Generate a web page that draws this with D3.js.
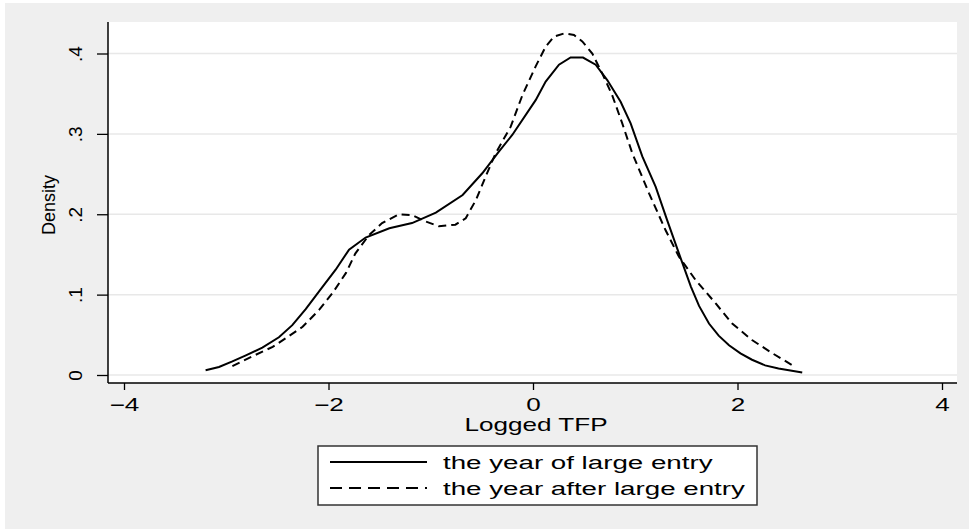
<!DOCTYPE html>
<html>
<head>
<meta charset="utf-8">
<script src="https://cdn.jsdelivr.net/npm/d3@7"></script>
<style>
  body { margin: 0; background: #fff; }
  text { font-family: 'Liberation Sans', Arial, Helvetica, sans-serif; fill: #000; }
</style>
</head>
<body>
<div id="chart"></div>
<script>
// kernel density of logged TFP
const tfpEntry = [-3.202, -3.071, -2.94, -2.808, -2.647, -2.485, -2.354, -2.223, -2.092, -1.93,
  -1.799, -1.637, -1.405, -1.183, -0.95, -0.688, -0.496, -0.334, -0.203, 0.026,
  0.124, 0.254, 0.368, 0.489, 0.613, 0.726, 0.857, 0.955, 1.069, 1.2,
  1.311, 1.428, 1.544, 1.624, 1.721, 1.816, 1.917, 2.029, 2.142, 2.27, 2.401, 2.633]
const densEntry = [0.006, 0.010, 0.017, 0.0245, 0.034, 0.047, 0.062, 0.082, 0.104, 0.131,
  0.156, 0.171, 0.1825, 0.189, 0.202, 0.224, 0.251, 0.278, 0.2986, 0.342,
  0.365, 0.386, 0.395, 0.395, 0.386, 0.367, 0.34, 0.313, 0.272, 0.234,
  0.193, 0.151, 0.11, 0.086, 0.064, 0.049, 0.037, 0.027, 0.019, 0.012, 0.008, 0.003]

const tfpAfter = [-2.94, -2.748, -2.546, -2.415, -2.253, -2.092, -1.96, -1.829, -1.738, -1.604,
  -1.476, -1.311, -1.183, -1.051, -0.92, -0.759, -0.658, -0.557, -0.463, -0.365,
  -0.218, -0.104, 0.026, 0.124, 0.206, 0.304, 0.401, 0.482, 0.58, 0.678,
  0.775, 0.873, 0.971, 1.135, 1.297, 1.428, 1.591, 1.787, 1.948, 2.142, 2.342, 2.565]
const densAfter = [0.011, 0.023, 0.035, 0.046, 0.060, 0.081, 0.102, 0.127, 0.151, 0.174,
  0.189, 0.200, 0.199, 0.191, 0.185, 0.187, 0.195, 0.218, 0.247, 0.276,
  0.309, 0.348, 0.384, 0.4085, 0.421, 0.425, 0.423, 0.415, 0.400, 0.375,
  0.348, 0.313, 0.276, 0.226, 0.180, 0.147, 0.118, 0.089, 0.064, 0.0435, 0.027, 0.010]

const xTicks = [-4, -2, 0, 2, 4]
const yTicks = [0, 0.1, 0.2, 0.3, 0.4]
const legendLabels = ['the year of large entry', 'the year after large entry']

let width = 969
let height = 529
// plot region
let plot = { left: 108, right: 957, top: 22, bottom: 383 }
const stretch = 1.45

let svg = d3
  .select('#chart')
  .append('svg')
  .attr('width', width)
  .attr('height', height)

svg.append('rect')
  .attr('x', 5).attr('y', 3)
  .attr('width', width - 5).attr('height', height - 3)
  .attr('fill', '#efefef')

svg.append('rect')
  .attr('x', plot.left).attr('y', plot.top)
  .attr('width', plot.right - plot.left).attr('height', plot.bottom - plot.top)
  .attr('fill', '#fff')

const x = d3.scaleLinear().domain([-4, 4]).range([124, 942])
const y = d3.scaleLinear().domain([0, 0.4]).range([375, 53.5])

// gridlines
svg.selectAll('.grid')
  .data(yTicks)
  .enter()
  .append('line')
  .attr('class', 'grid')
  .attr('x1', plot.left)
  .attr('x2', plot.right)
  .attr('y1', d => y(d))
  .attr('y2', d => y(d))
  .attr('stroke', '#e8e8e8')
  .attr('stroke-width', 1.5)

// axes
const xAxis = svg.append('g')
  .attr('transform', `translate(0,${plot.bottom})`)
  .call(d3.axisBottom(x)
    .tickValues(xTicks)
    .tickSize(7)
    .tickFormat(d => d < 0 ? '\u2212' + Math.abs(d) : String(d)))
xAxis.select('.domain').remove()
xAxis.selectAll('line').attr('stroke', '#000').attr('stroke-width', 1.3)
xAxis.selectAll('text')
  .attr('y', 28)
  .attr('dy', 0)
  .attr('font-size', 18)
  .attr('transform', `scale(${stretch},1)`)

const yAxis = svg.append('g')
  .attr('transform', `translate(${plot.left},0)`)
  .call(d3.axisLeft(y)
    .tickValues(yTicks)
    .tickSize(11)
    .tickFormat(d => d === 0 ? '0' : String(d).replace('0.', '.')))
yAxis.select('.domain').remove()
yAxis.selectAll('line').attr('stroke', '#000').attr('stroke-width', 1.3)
yAxis.selectAll('text')
  .attr('x', 0)
  .attr('dy', 0)
  .attr('text-anchor', 'middle')
  .attr('font-size', 19)
  .attr('transform', 'translate(-26,0) rotate(-90)')

svg.append('line')
  .attr('x1', plot.left).attr('x2', plot.left)
  .attr('y1', plot.top).attr('y2', plot.bottom)
  .attr('stroke', '#000').attr('stroke-width', 1.5)
svg.append('line')
  .attr('x1', plot.left).attr('x2', plot.right)
  .attr('y1', plot.bottom).attr('y2', plot.bottom)
  .attr('stroke', '#000').attr('stroke-width', 1.5)

// axis titles
svg.append('text')
  .text('Logged TFP')
  .attr('text-anchor', 'middle')
  .attr('font-size', 18)
  .attr('transform', `translate(${x(0) + 3},431) scale(${stretch},1)`)

svg.append('text')
  .text('Density')
  .attr('text-anchor', 'middle')
  .attr('font-size', 18)
  .attr('transform', 'translate(55,205) rotate(-90)')

// curves
const line = d3.line()
  .x(d => x(d[0]))
  .y(d => y(d[1]))

svg.append('path')
  .datum(d3.zip(tfpEntry, densEntry))
  .attr('d', line)
  .attr('fill', 'none')
  .attr('stroke', '#000')
  .attr('stroke-width', 2)

svg.append('path')
  .datum(d3.zip(tfpAfter, densAfter))
  .attr('d', line)
  .attr('fill', 'none')
  .attr('stroke', '#000')
  .attr('stroke-width', 2)
  .attr('stroke-dasharray', '8,5')

// legend
const legend = svg.append('g')

legend.append('rect')
  .attr('x', 318).attr('y', 446)
  .attr('width', 439).attr('height', 59)
  .attr('fill', '#fff')
  .attr('stroke', '#333')
  .attr('stroke-width', 1.5)

legend.selectAll('.item')
  .data(legendLabels)
  .enter()
  .append('g')
  .attr('class', 'item')
  .attr('transform', (d, i) => `translate(0,${462 + i * 26})`)
  .each(function(d, i) {
    let g = d3.select(this)
    g.append('line')
      .attr('x1', 330).attr('x2', 427)
      .attr('stroke', '#000')
      .attr('stroke-width', 2)
      .attr('stroke-dasharray', i === 1 ? '12,7' : null)
    g.append('text')
      .text(d)
      .attr('font-size', 18)
      .attr('transform', 'translate(443,7) scale(1.54,1)')
  })
</script>
</body>
</html>
